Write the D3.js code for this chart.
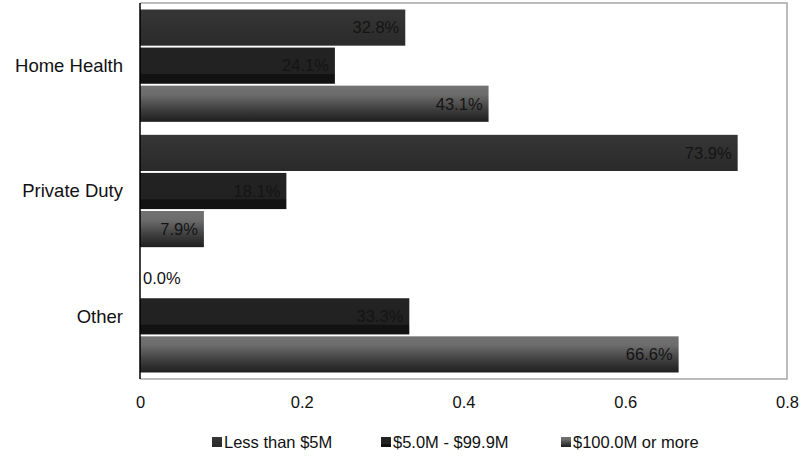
<!DOCTYPE html>
<html>
<head>
<meta charset="utf-8">
<script src="https://cdn.jsdelivr.net/npm/d3@7/dist/d3.min.js"></script>
<style>
  html, body { margin: 0; padding: 0; background: #fff; }
  svg { display: block; font-family: "Liberation Sans", Arial, Helvetica, sans-serif; }
</style>
</head>
<body>
<svg id="chart" width="802" height="459"></svg>
<script>
// Share of agencies by revenue band, per service line
const categories = ["Home Health", "Private Duty", "Other"];
const seriesNames = ["Less than $5M", "$5.0M - $99.9M", "$100.0M or more"];
const lessThan5M = [0.328, 0.739, 0.000];
const from5To99 = [0.241, 0.181, 0.333];
const over100M = [0.431, 0.079, 0.666];
const xTicks = [0, 0.2, 0.4, 0.6, 0.8];

const seriesValues = [lessThan5M, from5To99, over100M];

const svg = d3.select("#chart");
const plot = { left: 140, right: 787, top: 3, bottom: 379 };
const font = "'Liberation Sans', Arial, sans-serif";

// Bar fills: one vertical gradient per series
const defs = svg.append("defs");
const gradStops = [
  [["0%", "#363636"], ["100%", "#2a2a2a"]],
  [["0%", "#232323"], ["72%", "#212121"], ["74%", "#121212"], ["100%", "#111111"]],
  [["0%", "#727272"], ["25%", "#6c6c6c"], ["70%", "#3a3a3a"], ["100%", "#1e1e1e"]]
];
gradStops.forEach((stops, i) => {
  const g = defs.append("linearGradient")
    .attr("id", "grad" + i)
    .attr("x1", 0).attr("y1", 0).attr("x2", 0).attr("y2", 1);
  stops.forEach(([o, c]) => g.append("stop").attr("offset", o).attr("stop-color", c));
});

const x = d3.scaleLinear().domain([0, 0.8]).range([plot.left, plot.right]);
const y0 = d3.scaleBand().domain(categories).range([plot.top, plot.bottom]).padding(0);
const y1 = d3.scaleBand().domain(seriesNames)
  .range([6.5, y0.bandwidth() - 6.5]).paddingInner(0.05);

// Plot frame (top, right, bottom in gray)
svg.append("path")
  .attr("d", `M${plot.left},${plot.top}H${plot.right}V${plot.bottom}H${plot.left}`)
  .attr("fill", "none").attr("stroke", "#a8a8a8").attr("stroke-width", 1.5);

// Bars
const groups = svg.selectAll("g.cat").data(categories).join("g")
  .attr("class", "cat")
  .attr("transform", d => `translate(0,${y0(d)})`);

groups.each(function (cat, ci) {
  const g = d3.select(this);
  seriesNames.forEach((s, si) => {
    const v = seriesValues[si][ci];
    const yy = y1(s);
    const h = y1.bandwidth();
    if (v > 0) {
      g.append("rect")
        .attr("x", x(0)).attr("y", yy)
        .attr("width", x(v) - x(0)).attr("height", h)
        .attr("fill", `url(#grad${si})`);
    }
    const label = (v * 100).toFixed(1) + "%";
    const inside = v > 0;
    g.append("text")
      .attr("x", inside ? x(v) - 6 : x(0) + 3)
      .attr("y", yy + h / 2)
      .attr("dy", "0.35em")
      .attr("text-anchor", inside ? "end" : "start")
      .attr("font-size", 16.5)
      .attr("fill", inside ? "#141414" : "#111")
      .text(label);
  });
});

// Category axis line and labels
svg.append("line")
  .attr("x1", plot.left).attr("x2", plot.left)
  .attr("y1", plot.top).attr("y2", plot.bottom)
  .attr("stroke", "#000").attr("stroke-width", 1.5);

svg.selectAll("text.cat-label").data(categories).join("text")
  .attr("class", "cat-label")
  .attr("x", 123)
  .attr("y", d => y0(d) + y0.bandwidth() / 2)
  .attr("dy", "0.35em")
  .attr("text-anchor", "end")
  .attr("font-size", 18.5)
  .attr("fill", "#111")
  .text(d => d);

// Value axis tick labels
const xAxis = d3.axisBottom(x).tickValues(xTicks).tickSize(0).tickPadding(0)
  .tickFormat(d => d === 0 ? "0" : d3.format(".1f")(d));
const axG = svg.append("g").attr("transform", `translate(0,${plot.bottom + 17})`).call(xAxis);
axG.select(".domain").remove();
axG.selectAll("text").attr("font-size", 16.5).attr("fill", "#111")
  .attr("font-family", font);

// Legend
const legendX = [212, 381, 561];
const legend = svg.selectAll("g.legend").data(seriesNames).join("g")
  .attr("class", "legend")
  .attr("transform", (d, i) => `translate(${legendX[i]},442)`);
legend.append("rect")
  .attr("x", 0).attr("y", -5).attr("width", 10).attr("height", 10)
  .attr("fill", (d, i) => `url(#grad${i})`);
legend.append("text")
  .attr("x", 12).attr("y", 0).attr("dy", "0.35em")
  .attr("font-size", 16.5).attr("fill", "#111")
  .text(d => d);
</script>
</body>
</html>
